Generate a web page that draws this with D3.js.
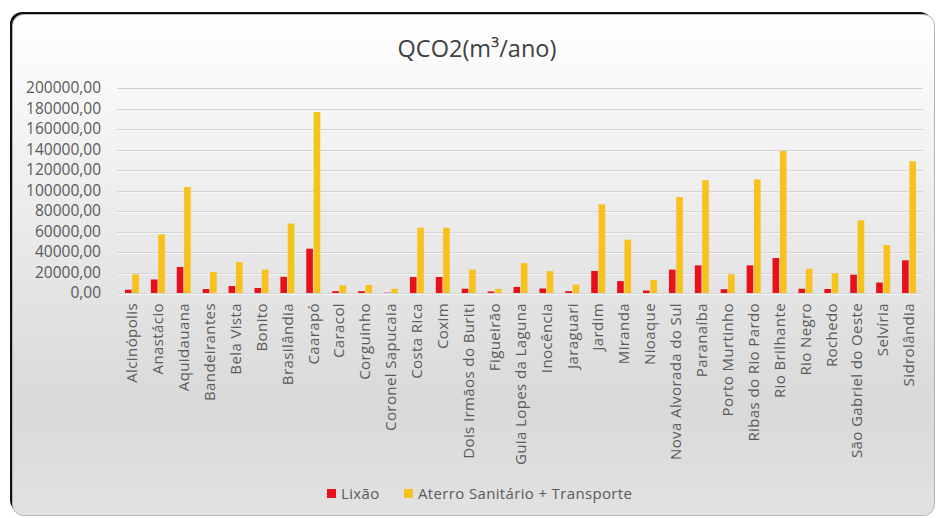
<!DOCTYPE html>
<html>
<head>
<meta charset="utf-8">
<script src="https://cdn.jsdelivr.net/npm/d3@7"></script>
<style>
  body { margin: 0; background: #fff; }
  text { font-family: "Open Sans", "Noto Sans", sans-serif; }
</style>
</head>
<body>
<div class="chart"></div>
<script>
// data
const municipios = ["Alcinópolis", "Anastácio", "Aquidauana", "Bandeirantes", "Bela Vista", "Bonito",
  "Brasilândia", "Caarapó", "Caracol", "Corguinho", "Coronel Sapucaia", "Costa Rica", "Coxim",
  "Dois Irmãos do Buriti", "Figueirão", "Guia Lopes da Laguna", "Inocência", "Jaraguari", "Jardim",
  "Miranda", "Nioaque", "Nova Alvorada do Sul", "Paranaíba", "Porto Murtinho", "Ribas do Rio Pardo",
  "Rio Brilhante", "Rio Negro", "Rochedo", "São Gabriel do Oeste", "Selvíria", "Sidrolândia"];
const lixao = [3200, 13200, 25400, 3900, 6800, 4900, 15800, 43200, 1800, 1800, 300, 15600, 15600,
  4200, 1500, 5900, 4400, 1800, 21500, 11600, 2400, 22800, 27000, 3700, 27000, 34100, 4200, 3900,
  17900, 10200, 31900];
const aterro = [18200, 57100, 103400, 20500, 30200, 22800, 67800, 176600, 7500, 7800, 4100, 63700,
  63700, 22800, 4100, 29200, 21300, 8300, 86500, 52000, 12700, 93700, 110000, 18200, 110900, 138500,
  23700, 19200, 70900, 46800, 128500];
const yTicks = d3.range(0, 200001, 20000);
const seriesNames = ["Lixão", "Aterro Sanitário + Transporte"];
const seriesColors = ["#e8101a", "#f7c21c"];

const W = 938, H = 518;
const svg = d3.select(".chart").append("svg")
  .attr("width", W)
  .attr("height", H);

// frame background
const defs = svg.append("defs");
const grad = defs.append("linearGradient")
  .attr("id", "bg").attr("x1", 0).attr("y1", 0).attr("x2", 0).attr("y2", 1);
grad.append("stop").attr("offset", "0%").attr("stop-color", "#ffffff");
grad.append("stop").attr("offset", "20%").attr("stop-color", "#f5f5f5");
grad.append("stop").attr("offset", "78%").attr("stop-color", "#d9d9d9");
grad.append("stop").attr("offset", "100%").attr("stop-color", "#e2e2e2");

// dark shadow shows on the top and left only
svg.append("rect")
  .attr("x", 10).attr("y", 12).attr("width", 922).attr("height", 500)
  .attr("rx", 12).attr("fill", "#111");
svg.append("rect")
  .attr("x", 12.5).attr("y", 14.5).attr("width", 922).attr("height", 501)
  .attr("rx", 11).attr("fill", "url(#bg)")
  .attr("stroke", "#b5b5b5");

// scales
const x = d3.scaleBand()
  .domain(municipios)
  .range([119, 922])
  .paddingInner(0.46)
  .paddingOuter(0.23);

const x1 = d3.scaleBand()
  .domain([0, 1])
  .range([0, x.bandwidth()])
  .paddingInner(0.1);

const y = d3.scaleLinear()
  .domain([0, 200000])
  .range([293, 88]);

// gridlines
const grid = svg.append("g");
grid.selectAll("line.g1")
  .data(yTicks)
  .join("line")
  .attr("class", "g1")
  .attr("x1", 117).attr("x2", 923)
  .attr("y1", d => Math.round(y(d)) + 0.5)
  .attr("y2", d => Math.round(y(d)) + 0.5)
  .attr("stroke", "#d4d4d4");
grid.selectAll("line.g2")
  .data(yTicks)
  .join("line")
  .attr("class", "g2")
  .attr("x1", 117).attr("x2", 923)
  .attr("y1", d => Math.round(y(d)) + 1.5)
  .attr("y2", d => Math.round(y(d)) + 1.5)
  .attr("stroke", "#f6f6f6");

// y axis
const yAxis = d3.axisLeft(y)
  .tickValues(yTicks)
  .tickSize(0)
  .tickPadding(0)
  .tickFormat(d => d3.format(".2f")(d).replace(".", ","));
const ya = svg.append("g")
  .attr("transform", "translate(101,0)")
  .call(yAxis);
ya.select(".domain").remove();
ya.selectAll("text")
  .attr("font-size", 15.5)
  .attr("fill", "#5a5a5a");

// bars
const rows = municipios.map((m, i) => ({ m, v: [lixao[i], aterro[i]] }));
const groups = svg.append("g")
  .selectAll("g")
  .data(rows)
  .join("g")
  .attr("transform", d => `translate(${x(d.m)},0)`);
groups.selectAll("rect")
  .data(d => d.v.map((v, k) => ({ v, k })))
  .join("rect")
  .attr("x", d => x1(d.k))
  .attr("width", x1.bandwidth())
  .attr("y", d => y(d.v))
  .attr("height", d => y(0) - y(d.v))
  .attr("fill", d => seriesColors[d.k]);

// x axis labels
const xAxis = d3.axisBottom(x).tickSize(0).tickPadding(0);
const xa = svg.append("g")
  .attr("transform", "translate(0,303)")
  .call(xAxis);
xa.select(".domain").remove();
xa.selectAll("text")
  .attr("font-size", 15)
  .attr("letter-spacing", 0.4)
  .attr("fill", "#5a5a5a")
  .attr("text-anchor", "end")
  .attr("dy", "0.35em")
  .attr("transform", "rotate(-90)")
  .attr("x", 0)
  .attr("y", 0);

// title
svg.append("text")
  .attr("x", 477).attr("y", 57)
  .attr("text-anchor", "middle")
  .attr("font-size", 23.5)
  .attr("fill", "#404040")
  .text("QCO2(m³/ano)");

// legend
const legendX = [327, 404];
const leg = svg.append("g")
  .selectAll("g")
  .data(seriesNames)
  .join("g")
  .attr("transform", (d, i) => `translate(${legendX[i]},489)`);
leg.append("rect")
  .attr("width", 9).attr("height", 9)
  .attr("fill", (d, i) => seriesColors[i]);
leg.append("text")
  .attr("x", 14).attr("y", 5)
  .attr("dy", "0.35em")
  .attr("font-size", 15)
  .attr("letter-spacing", 0.35)
  .attr("fill", "#5a5a5a")
  .text(d => d);
</script>
</body>
</html>
